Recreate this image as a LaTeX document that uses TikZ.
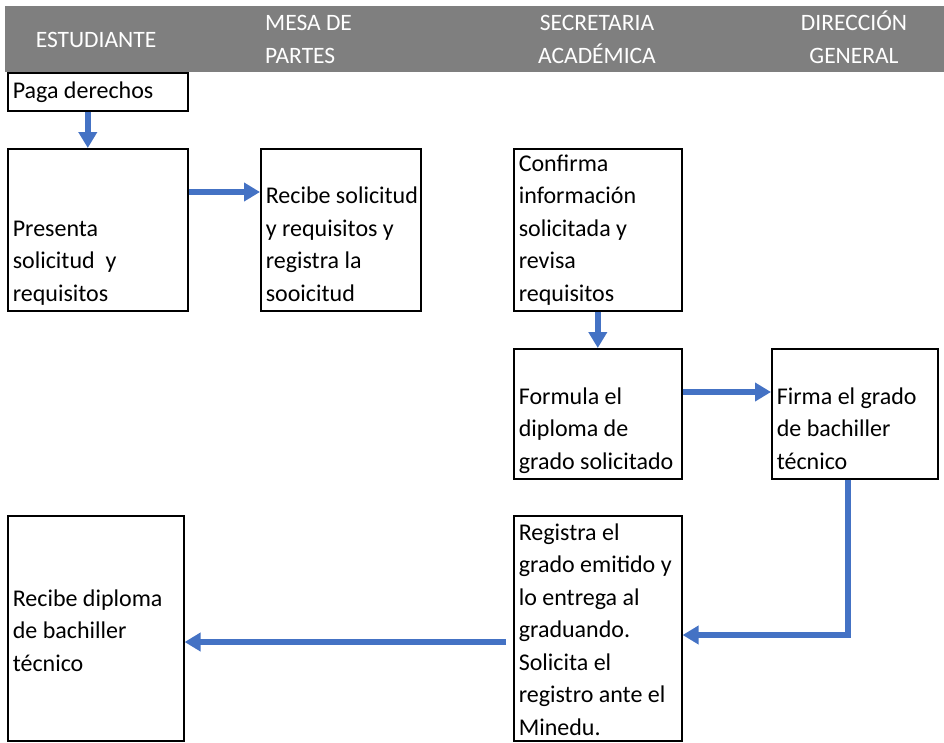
\documentclass[tikz,border=0pt]{standalone}
\usepackage{fontspec}
\setmainfont{Carlito}
\usepackage{tikz}
\usetikzlibrary{calc,positioning,arrows.meta}
\definecolor{azul}{HTML}{4472C4}
\definecolor{gris}{HTML}{7F7F7F}
\newcommand{\bloque}[5][0pt]{\parbox[c][#2][#4]{#3}{\raggedright\rightskip=-14pt plus 1fil\strut #5\strut\par\vskip-#1}}
\tikzset{paso/.style={draw,line width=1.6pt,inner xsep=5pt,inner ysep=0pt,anchor=north west,
		font=\fontsize{24}{32.5}\selectfont},
	encabezado/.style={text=white,inner sep=0pt,font=\fontsize{23.5}{33}\selectfont},
	flecha/.style={azul,line width=6pt,line join=miter,-{Triangle[length=16pt,width=18pt]}}}

\begin{document}
\begin{tikzpicture}[x=1pt,y=-1pt]
	\useasboundingbox (0,0) rectangle (944,742);
	
	\fill [gris] (5,6) rectangle (944,72);
	\node (estudiante)	[encabezado]					at	(96,40)	{ESTUDIANTE};
	\node (mesa)		[encabezado,align=left,anchor=west]	at	(265,39)	{MESA DE\\PARTES};
	\node (secretaria)	[encabezado,align=center]		at	(597,39)	{SECRETARIA\\ACADÉMICA};
	\node (direccion)	[encabezado,align=center]		at	(854,37)	{DIRECCIÓN\\GENERAL};
	
	\node (paga)		[paso]	at	(7,72)	{\bloque{38pt}{170pt}{c}{Paga derechos}};
	\node (presenta)	[paso]	at	(7,148)	{\bloque{162pt}{170pt}{b}{Presenta\\solicitud\ \ y\\requisitos}};
	\node (recibe)		[paso]	at	(260,148)	{\bloque{162pt}{150pt}{b}{Recibe solicitud\\y requisitos y\\registra la\\sooicitud}};
	\node (confirma)	[paso]	at	(513,148)	{\bloque{162pt}{158pt}{b}{Confirma\\información\\solicitada y\\revisa\\requisitos}};
	\node (formula)		[paso]	at	(513,348)	{\bloque{130pt}{158pt}{b}{Formula el\\diploma de\\grado solicitado}};
	\node (firma)		[paso]	at	(771,348)	{\bloque{130pt}{156pt}{b}{Firma el grado\\de bachiller\\técnico}};
	\node (registra)	[paso]	at	(513,515)	{\bloque[4pt]{225pt}{158pt}{b}{Registra el\\grado emitido y\\lo entrega al\\graduando.\\Solicita el\\registro ante el\\Minedu.}};
	\node (diploma)		[paso]	at	(7,515)	{\bloque[8pt]{225pt}{166pt}{c}{Recibe diploma\\de bachiller\\técnico}};
	
	\draw [flecha] ([xshift=-10pt]paga.south) -- ([xshift=-10pt]presenta.north);
	\draw [flecha] ([yshift=-44pt]presenta.north east) -- ([yshift=-44pt]recibe.north west);
	\draw [flecha] (confirma) -- (formula);
	\draw [flecha] ([yshift=-44pt]formula.north east) -- ([yshift=-44pt]firma.north west);
	\draw [flecha] ([xshift=-7pt]firma.south) |- ([yshift=-120pt]registra.north east);
	\draw [flecha] ([xshift=-7pt,yshift=-127pt]registra.north west) -- ([yshift=-127pt]diploma.north east);
\end{tikzpicture}
\end{document}
